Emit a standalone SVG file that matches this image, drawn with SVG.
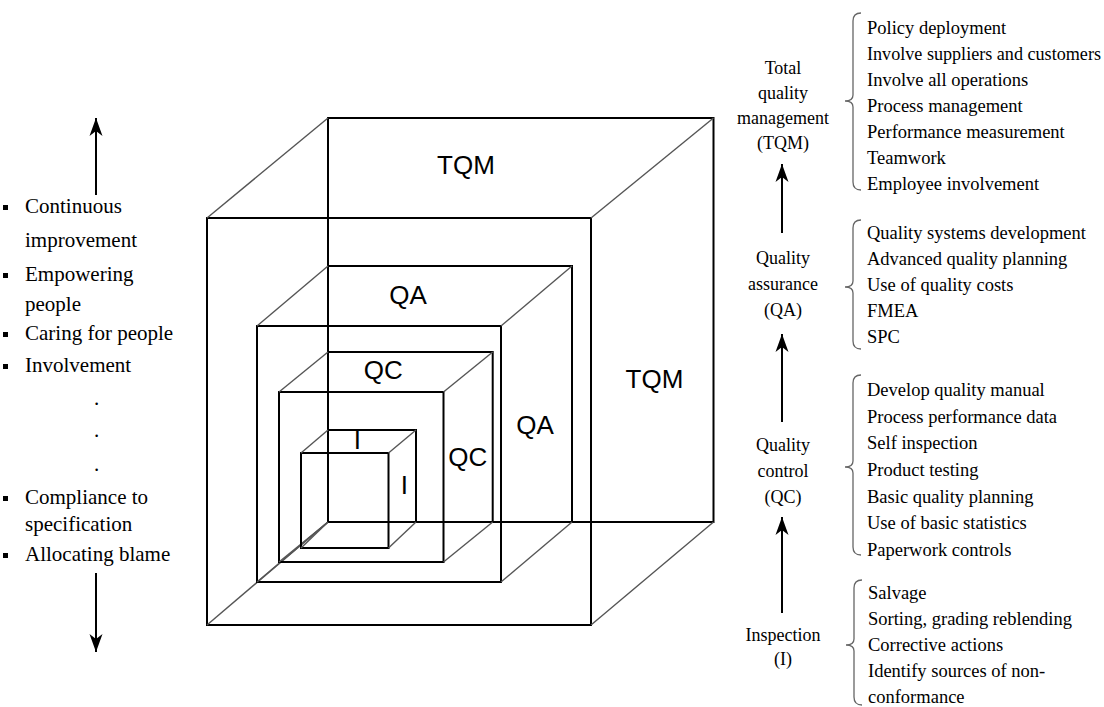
<svg xmlns="http://www.w3.org/2000/svg" width="1104" height="707" viewBox="0 0 1104 707">
<style>
.bg{fill:#ffffff}
.edge{fill:none;stroke:#000;stroke-width:2}
.diag{fill:none;stroke:#555;stroke-width:1.4}
.lbl{font-family:"Liberation Sans",Arial,sans-serif;font-size:26px;text-anchor:middle;fill:#000}
.ser{font-family:"Liberation Serif","Times New Roman",serif;fill:#000}
.left{font-size:21px}
.list{font-size:18.5px}
.stage{font-size:18px;text-anchor:middle}
.dot{font-size:21px;text-anchor:middle}
.brace{fill:none;stroke:#666;stroke-width:1.3}
.arrow{fill:none;stroke:#000;stroke-width:2;marker-end:url(#head)}
.bullet{fill:#000}
</style>
<defs>
<marker id="head" markerUnits="userSpaceOnUse" markerWidth="20" markerHeight="16" viewBox="-19 -8 20 16" refX="0" refY="0" orient="auto">
<path d="M0,0 L-18,-6.5 L-13,0 L-18,6.5 Z" fill="#000"/>
</marker>
</defs>
<rect class="bg" x="0" y="0" width="1104" height="707"/>

<g id="tqm-cube">
<rect class="edge" x="328" y="118" width="385.5" height="404"/>
<rect class="edge" x="207" y="218" width="384" height="407"/>
<line class="diag" x1="207" y1="218" x2="328" y2="118"/>
<line class="diag" x1="591" y1="218" x2="713.5" y2="118"/>
<line class="diag" x1="207" y1="625" x2="328" y2="522"/>
<line class="diag" x1="591" y1="625" x2="713.5" y2="522"/>
<text class="lbl" x="466" y="174">TQM</text>
<text class="lbl" x="654.5" y="388">TQM</text>
</g>

<g id="qa-cube">
<rect class="edge" x="328" y="266" width="244" height="256"/>
<rect class="edge" x="257" y="326" width="244" height="256"/>
<line class="diag" x1="257" y1="326" x2="328" y2="266"/>
<line class="diag" x1="501" y1="326" x2="572" y2="266"/>
<line class="diag" x1="257" y1="582" x2="328" y2="522"/>
<line class="diag" x1="501" y1="582" x2="572" y2="522"/>
<text class="lbl" x="408" y="304">QA</text>
<text class="lbl" x="535" y="434">QA</text>
</g>

<g id="qc-cube">
<rect class="edge" x="328" y="352" width="164.7" height="170"/>
<rect class="edge" x="279" y="392" width="164.5" height="170"/>
<line class="diag" x1="279" y1="392" x2="328" y2="352"/>
<line class="diag" x1="443.5" y1="392" x2="492.7" y2="352"/>
<line class="diag" x1="279" y1="562" x2="328" y2="522"/>
<line class="diag" x1="443.5" y1="562" x2="492.7" y2="522"/>
<text class="lbl" x="383.3" y="379">QC</text>
<text class="lbl" x="467.7" y="466">QC</text>
</g>

<g id="i-cube">
<rect class="edge" x="328" y="430" width="88" height="92"/>
<rect class="edge" x="301" y="453" width="87.5" height="95"/>
<line class="diag" x1="301" y1="453" x2="328" y2="430"/>
<line class="diag" x1="388.5" y1="453" x2="416" y2="430"/>
<line class="diag" x1="301" y1="548" x2="328" y2="522"/>
<line class="diag" x1="388.5" y1="548" x2="416" y2="522"/>
<text class="lbl" x="357.3" y="449">I</text>
<text class="lbl" x="404.3" y="494">I</text>
</g>

<g id="left-list">
<rect class="bullet" x="3" y="205" width="5" height="5"/>
<text class="ser left" x="25" y="213">Continuous</text>
<text class="ser left" x="25" y="247">improvement</text>
<rect class="bullet" x="3" y="273" width="5" height="5"/>
<text class="ser left" x="25" y="281">Empowering</text>
<text class="ser left" x="25" y="311">people</text>
<rect class="bullet" x="3" y="332" width="5" height="5"/>
<text class="ser left" x="25" y="340">Caring for people</text>
<rect class="bullet" x="3" y="364" width="5" height="5"/>
<text class="ser left" x="25" y="372">Involvement</text>
<text class="ser dot" x="96.7" y="405">.</text>
<text class="ser dot" x="96.7" y="437">.</text>
<text class="ser dot" x="96.7" y="471">.</text>
<rect class="bullet" x="3" y="496" width="5" height="5"/>
<text class="ser left" x="25" y="504">Compliance to</text>
<text class="ser left" x="25" y="531">specification</text>
<rect class="bullet" x="3" y="553" width="5" height="5"/>
<text class="ser left" x="25" y="561">Allocating blame</text>
</g>

<g id="stage-tqm">
<text class="ser stage" x="783" y="74">Total</text>
<text class="ser stage" x="783" y="99">quality</text>
<text class="ser stage" x="783" y="124">management</text>
<text class="ser stage" x="783" y="149">(TQM)</text>
</g>
<g id="stage-qa">
<text class="ser stage" x="783" y="264">Quality</text>
<text class="ser stage" x="783" y="290">assurance</text>
<text class="ser stage" x="783" y="316">(QA)</text>
</g>
<g id="stage-qc">
<text class="ser stage" x="783" y="451">Quality</text>
<text class="ser stage" x="783" y="477">control</text>
<text class="ser stage" x="783" y="503">(QC)</text>
</g>
<g id="stage-i">
<text class="ser stage" x="783" y="641">Inspection</text>
<text class="ser stage" x="783" y="665">(I)</text>
</g>

<g id="list-tqm">
<path class="brace" d="M861,13 Q853,13 853,21 L853,95 Q853,101 845,101 Q853,101 853,107 L853,182 Q853,190 861,190"/>
<text class="ser list" x="867" y="34">Policy deployment</text>
<text class="ser list" x="867" y="60" textLength="234" lengthAdjust="spacingAndGlyphs">Involve suppliers and customers</text>
<text class="ser list" x="867" y="86">Involve all operations</text>
<text class="ser list" x="867" y="112">Process management</text>
<text class="ser list" x="867" y="138">Performance measurement</text>
<text class="ser list" x="867" y="164">Teamwork</text>
<text class="ser list" x="867" y="190">Employee involvement</text>
</g>
<g id="list-qa">
<path class="brace" d="M861,220 Q853,220 853,228 L853,281 Q853,287 845,287 Q853,287 853,293 L853,341 Q853,349 861,349"/>
<text class="ser list" x="867" y="239">Quality systems development</text>
<text class="ser list" x="867" y="265">Advanced quality planning</text>
<text class="ser list" x="867" y="291">Use of quality costs</text>
<text class="ser list" x="867" y="317">FMEA</text>
<text class="ser list" x="867" y="343">SPC</text>
</g>
<g id="list-qc">
<path class="brace" d="M861,375 Q853,375 853,383 L853,461 Q853,467 845,467 Q853,467 853,473 L853,547 Q853,555 861,555"/>
<text class="ser list" x="867" y="396">Develop quality manual</text>
<text class="ser list" x="867" y="423">Process performance data</text>
<text class="ser list" x="867" y="449">Self inspection</text>
<text class="ser list" x="867" y="476">Product testing</text>
<text class="ser list" x="867" y="503">Basic quality planning</text>
<text class="ser list" x="867" y="529">Use of basic statistics</text>
<text class="ser list" x="867" y="556">Paperwork controls</text>
</g>
<g id="list-i">
<path class="brace" d="M862,580 Q854,580 854,588 L854,639 Q854,645 846,645 Q854,645 854,651 L854,697 Q854,705 862,705"/>
<text class="ser list" x="868" y="599">Salvage</text>
<text class="ser list" x="868" y="625">Sorting, grading reblending</text>
<text class="ser list" x="868" y="651">Corrective actions</text>
<text class="ser list" x="868" y="677">Identify sources of non-</text>
<text class="ser list" x="868" y="703">conformance</text>
</g>

<g id="connectors">
<line class="arrow" x1="96" y1="195" x2="96" y2="118"/>
<line class="arrow" x1="96" y1="573" x2="96" y2="652"/>
<line class="arrow" x1="782" y1="233" x2="782" y2="164"/>
<line class="arrow" x1="782" y1="422" x2="782" y2="334"/>
<line class="arrow" x1="782" y1="613" x2="782" y2="517"/>
</g>
</svg>
